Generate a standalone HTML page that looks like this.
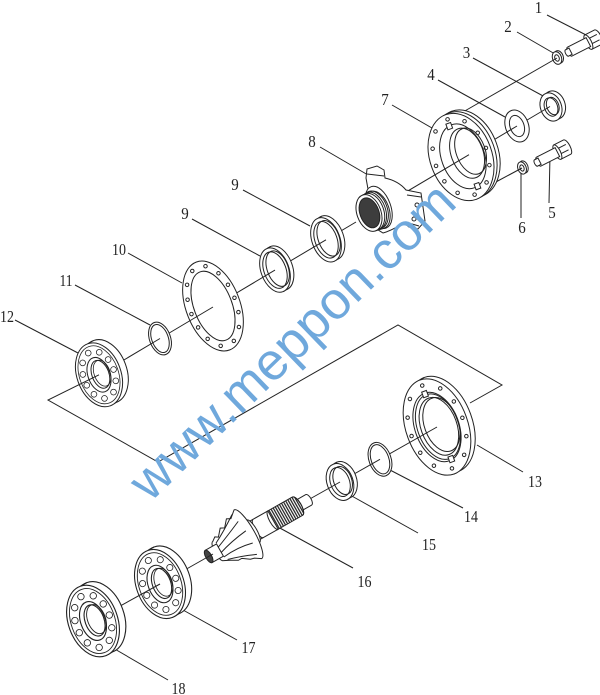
<!DOCTYPE html>
<html><head><meta charset="utf-8">
<style>
html,body{margin:0;padding:0;background:#fff;}
svg{display:block}
.l{stroke:#222;stroke-width:1;fill:none}
.w{stroke:#222;stroke-width:1;fill:#fff}
.t{font-family:"Liberation Serif",serif;font-size:17px;fill:#222;text-anchor:middle}
</style></head>
<body>
<svg width="600" height="695" viewBox="0 0 600 695" xmlns="http://www.w3.org/2000/svg">
<defs>
  <pattern id="spl" patternUnits="userSpaceOnUse" width="2.4" height="4">
    <rect width="2.4" height="4" fill="#fff"/>
    <line x1="0.6" y1="0" x2="0.6" y2="4" stroke="#222" stroke-width="1.3"/>
  </pattern>
  <g id="brg">
    <ellipse cx="6.5" cy="-1.1" rx="22" ry="33" fill="#fff" stroke="#222"/>
    <path d="M0,-33 L6.5,-34.1 M0,33 L6.5,31.9" stroke="#222" fill="none"/>
    <ellipse rx="22" ry="33" fill="#fff" stroke="#222"/>
    <ellipse rx="19.5" ry="30" fill="none" stroke="#222" stroke-width=".8"/>
    <ellipse rx="15.5" ry="24.5" fill="none" stroke="#222" stroke-width="6.5" stroke-linecap="round" stroke-dasharray="0 11.57"/>
    <ellipse rx="15.5" ry="24.5" fill="none" stroke="#fff" stroke-width="5" stroke-linecap="round" stroke-dasharray="0 11.57"/>
    <ellipse rx="11" ry="18" fill="#fff" stroke="#222"/>
    <ellipse cx="1.5" rx="8.5" ry="14.5" fill="#fff" stroke="#222"/>
    <ellipse cx="3.5" cy="-0.5" rx="8" ry="13.5" fill="none" stroke="#222" stroke-width=".8"/>
  </g>
</defs>

<!-- leader lines -->
<g class="l">
  <line x1="547" y1="15" x2="590" y2="37"/>
  <line x1="517" y1="32" x2="555" y2="54"/>
  <line x1="473" y1="58" x2="545" y2="97"/>
  <line x1="438" y1="80" x2="505" y2="117"/>
  <line x1="392" y1="105" x2="432" y2="128"/>
  <line x1="320" y1="147" x2="368" y2="175"/>
  <line x1="549" y1="203" x2="550" y2="155"/>
  <line x1="521" y1="218" x2="521" y2="172"/>
  <line x1="243" y1="190" x2="310" y2="226"/>
  <line x1="192" y1="219" x2="260" y2="256"/>
  <line x1="128" y1="253" x2="182" y2="283"/>
  <line x1="75" y1="285" x2="150" y2="325"/>
  <line x1="15" y1="320" x2="78" y2="353"/>
  <line x1="523" y1="472" x2="477" y2="445"/>
  <line x1="463" y1="508" x2="390" y2="470"/>
  <line x1="418" y1="533" x2="350" y2="495"/>
  <line x1="353" y1="568" x2="278" y2="527"/>
  <line x1="237" y1="640" x2="183" y2="610"/>
  <line x1="168" y1="680" x2="113" y2="648"/>
</g>

<!-- labels -->
<text class="t" x="538.5" y="13" textLength="7.5" lengthAdjust="spacingAndGlyphs">1</text>
<text class="t" x="508" y="32" textLength="7.5" lengthAdjust="spacingAndGlyphs">2</text>
<text class="t" x="466.5" y="58" textLength="7.5" lengthAdjust="spacingAndGlyphs">3</text>
<text class="t" x="431" y="80" textLength="7.5" lengthAdjust="spacingAndGlyphs">4</text>
<text class="t" x="385" y="105" textLength="7.5" lengthAdjust="spacingAndGlyphs">7</text>
<text class="t" x="312" y="147" textLength="7.5" lengthAdjust="spacingAndGlyphs">8</text>
<text class="t" x="552" y="218" textLength="7.5" lengthAdjust="spacingAndGlyphs">5</text>
<text class="t" x="522" y="233" textLength="7.5" lengthAdjust="spacingAndGlyphs">6</text>
<text class="t" x="235" y="190" textLength="7.5" lengthAdjust="spacingAndGlyphs">9</text>
<text class="t" x="185" y="219" textLength="7.5" lengthAdjust="spacingAndGlyphs">9</text>
<text class="t" x="119" y="255" textLength="14" lengthAdjust="spacingAndGlyphs">10</text>
<text class="t" x="66" y="286" textLength="13" lengthAdjust="spacingAndGlyphs">11</text>
<text class="t" x="7" y="322" textLength="14" lengthAdjust="spacingAndGlyphs">12</text>
<text class="t" x="535" y="487" textLength="14" lengthAdjust="spacingAndGlyphs">13</text>
<text class="t" x="471" y="522" textLength="14" lengthAdjust="spacingAndGlyphs">14</text>
<text class="t" x="429" y="550" textLength="14" lengthAdjust="spacingAndGlyphs">15</text>
<text class="t" x="364.5" y="587" textLength="14" lengthAdjust="spacingAndGlyphs">16</text>
<text class="t" x="248.5" y="653" textLength="14" lengthAdjust="spacingAndGlyphs">17</text>
<text class="t" x="178.5" y="694" textLength="14" lengthAdjust="spacingAndGlyphs">18</text>

<!-- bolt 1 -->
<g transform="translate(567,53) rotate(-27)">
  <path d="M24,-8 L35,-8 A3,8 0 0 1 35,8 L24,8 Z" class="w"/>
  <path d="M24,-3 L35,-3 M24,3 L35,3" class="l" stroke-width=".8"/>
  <ellipse cx="24" rx="3" ry="8" class="w"/>
  <path d="M3,-5 L24,-5 L24,5 L3,5 A2,5 0 0 1 3,-5 Z" class="w"/>
  <path d="M0,-3.5 L4,-3.5 L4,3.5 L0,3.5 A1.5,3.5 0 0 1 0,-3.5 Z" class="w"/>
</g>
<!-- washer 2 -->
<g transform="translate(557,58) rotate(-20)">
  <ellipse cx="2" cy="-0.4" rx="4.5" ry="6.5" class="w"/>
  <ellipse rx="4.5" ry="6.5" class="w" stroke-width="1.4"/>
  <ellipse rx="2.2" ry="3.3" class="l"/>
</g>
<line x1="557" y1="58" x2="463" y2="112" class="l"/>

<!-- bolt 5 -->
<g transform="translate(536,163) rotate(-27)">
  <path d="M24,-8 L35,-8 A3,8 0 0 1 35,8 L24,8 Z" class="w"/>
  <path d="M24,-3 L35,-3 M24,3 L35,3" class="l" stroke-width=".8"/>
  <ellipse cx="24" rx="3" ry="8" class="w"/>
  <path d="M3,-5 L24,-5 L24,5 L3,5 A2,5 0 0 1 3,-5 Z" class="w"/>
  <path d="M0,-3.5 L4,-3.5 L4,3.5 L0,3.5 A1.5,3.5 0 0 1 0,-3.5 Z" class="w"/>
</g>
<!-- washer 6 -->
<g transform="translate(522,168) rotate(-20)">
  <ellipse cx="2" cy="-0.4" rx="4.2" ry="6.3" class="w"/>
  <ellipse rx="4.2" ry="6.3" class="w" stroke-width="1.4"/>
  <ellipse rx="2" ry="3.2" class="l"/>
</g>
<line x1="522" y1="168" x2="494" y2="183" class="l"/>

<!-- nut 3 -->
<g transform="translate(551,107) rotate(-20)">
  <ellipse cx="4" cy="-0.7" rx="10.5" ry="14.5" class="w"/>
  <path d="M0,-14.5 L4,-15.2 M0,14.5 L4,13.8" class="l"/>
  <ellipse rx="10.5" ry="14.5" class="w" stroke-width="1.2"/>
  <ellipse rx="6.5" ry="9.5" class="w"/>
  <ellipse cx="2" cy="-0.3" rx="6" ry="9" class="l" stroke-width=".8"/>
</g>
<line x1="550" y1="106.5" x2="517" y2="126" class="l"/>
<!-- washer 4 -->
<g transform="translate(517,126) rotate(-20)">
  <ellipse rx="11.5" ry="16.5" class="w" stroke-width="2"/>
  <ellipse rx="7" ry="11" class="w" stroke-width="1.5"/>
</g>
<line x1="517" y1="126" x2="469" y2="154.7" class="l"/>

<!-- flange 7 -->
<g transform="translate(461,157) rotate(-20)">
  <ellipse cx="7" cy="-1.2" rx="31" ry="45" class="w"/>
  <path d="M0,-45 L7,-46.2 M0,45 L7,43.8" class="l"/>
  <ellipse cx="3.5" cy="-0.6" rx="31" ry="45" class="l" stroke-width=".7"/>
  <ellipse rx="31" ry="45" class="w"/>
  <ellipse rx="26.5" ry="40" fill="none" stroke="#222" stroke-width="4.5" stroke-linecap="round" stroke-dasharray="0 17.59"/>
  <ellipse rx="26.5" ry="40" fill="none" stroke="#fff" stroke-width="2.6" stroke-linecap="round" stroke-dasharray="0 17.59"/>
  <ellipse cx="2" rx="21.5" ry="33.5" class="l"/>
  <rect x="-3" y="-36" width="5" height="6" class="w"/>
  <rect x="3" y="30" width="5" height="6" class="w"/>
  <ellipse cx="7" cy="-1.5" rx="16" ry="26" class="w"/>
  <ellipse cx="11" cy="-2.2" rx="14.5" ry="24" class="l" stroke-width=".8"/>
</g>
<line x1="469" y1="154.7" x2="369" y2="214" class="l"/>

<!-- yoke 8 -->
<path d="M366,178 L367,169 L377,166 L384,170 L385,178 C394,180 401,184 406,190 L421,193 L425,221 L418,229 L409,227 L404,223 C397,227 391,231 383,233 L375,228 Z" class="w"/>
<path d="M367,174 L384,176 M407,195 L421,197 M405,222 L419,226" class="l" stroke-width=".8"/>
<circle cx="417" cy="205" r="2" class="l"/>
<circle cx="414" cy="219" r="2" class="l"/>
<g transform="translate(369,213) rotate(-20)">
  <ellipse cx="11" cy="-2" rx="12" ry="22" class="w"/>
  <path d="M0,-19 L9,-19.5 A11.5,19.5 0 0 1 9,19.5 L0,19 Z" class="w"/>
  <ellipse cx="3" cy="-0.3" rx="12" ry="19" class="l" stroke-width=".7"/>
  <ellipse cx="5" cy="-0.6" rx="12" ry="19.2" class="l" stroke-width=".7"/>
  <ellipse cx="7" cy="-0.9" rx="12" ry="19.4" class="l" stroke-width=".7"/>
  <ellipse rx="12" ry="19" class="w" stroke-width="1.2"/>
  <ellipse cx="0.5" rx="9.5" ry="15.5" fill="#3d3d3d" stroke="#222"/>
</g>
<line x1="356" y1="222" x2="326" y2="239.8" class="l"/>

<!-- ring 9 upper -->
<g transform="translate(326,239.8) rotate(-20)">
  <ellipse cx="4" cy="-0.7" rx="14" ry="23" class="w"/>
  <path d="M0,-23 L4,-23.7 M0,23 L4,22.3" class="l"/>
  <ellipse rx="14" ry="23" class="w" stroke-width="1.2"/>
  <ellipse rx="11" ry="19" class="w"/>
  <ellipse cx="3" cy="-0.5" rx="10.5" ry="18.5" class="l" stroke-width=".8"/>
</g>
<line x1="326" y1="239.8" x2="275" y2="270.1" class="l"/>
<!-- ring 9 lower -->
<g transform="translate(275,270.1) rotate(-20)">
  <ellipse cx="4" cy="-0.7" rx="14" ry="23" class="w"/>
  <path d="M0,-23 L4,-23.7 M0,23 L4,22.3" class="l"/>
  <ellipse rx="14" ry="23" class="w" stroke-width="1.2"/>
  <ellipse rx="11" ry="19" class="w"/>
  <ellipse cx="3" cy="-0.5" rx="10.5" ry="18.5" class="l" stroke-width=".8"/>
</g>
<line x1="275" y1="270.1" x2="213" y2="307" class="l"/>

<!-- gasket 10 -->
<g transform="translate(213,306) rotate(-21)">
  <ellipse rx="27" ry="47" class="w"/>
  <ellipse rx="19" ry="36.5" class="l"/>
  <ellipse rx="23" ry="42" fill="none" stroke="#222" stroke-width="4.5" stroke-linecap="round" stroke-dasharray="0 14.9"/>
  <ellipse rx="23" ry="42" fill="none" stroke="#fff" stroke-width="2.5" stroke-linecap="round" stroke-dasharray="0 14.9"/>
</g>
<line x1="213" y1="307" x2="160" y2="338.5" class="l"/>

<!-- O-ring 11 -->
<g transform="translate(160,338.5) rotate(-20)">
  <ellipse rx="10.5" ry="17" class="w" stroke-width="1.3"/>
  <ellipse rx="8.3" ry="14.6" class="l"/>
</g>
<line x1="160" y1="338.5" x2="99" y2="374.8" class="l"/>

<!-- bearing 12 -->
<use href="#brg" transform="translate(99,374.8) rotate(-20)"/>

<!-- bracket -->
<polyline points="99,374.8 48,400 158,462 398,325 502,385 470,403" class="l"/>

<!-- flange 13 -->
<g transform="translate(437,427) rotate(-20)">
  <ellipse cx="5" cy="-0.9" rx="31" ry="50" class="w"/>
  <path d="M0,-50 L5,-50.9 M0,50 L5,49.1" class="l"/>
  <ellipse rx="31" ry="50" class="w"/>
  <ellipse rx="27" ry="44" fill="none" stroke="#222" stroke-width="4.5" stroke-linecap="round" stroke-dasharray="0 18.86"/>
  <ellipse rx="27" ry="44" fill="none" stroke="#fff" stroke-width="2.5" stroke-linecap="round" stroke-dasharray="0 18.86"/>
  <ellipse rx="22" ry="36" class="w"/>
  <ellipse cx="1" rx="20.5" ry="34" class="l" stroke-width=".8"/>
  <rect x="-2.5" y="-38" width="5" height="6" class="w"/>
  <rect x="0" y="32" width="5" height="6" class="w"/>
  <ellipse cx="2" rx="18" ry="30" class="w"/>
  <ellipse cx="5" cy="-0.8" rx="17" ry="28" class="l" stroke-width=".8"/>
</g>
<line x1="437" y1="427" x2="380" y2="459.3" class="l"/>

<!-- O-ring 14 -->
<g transform="translate(380,459.3) rotate(-20)">
  <ellipse rx="11" ry="17.5" class="w" stroke-width="1.3"/>
  <ellipse rx="8.8" ry="15.2" class="l"/>
</g>
<line x1="380" y1="459.3" x2="340" y2="482" class="l"/>

<!-- seal 15 -->
<g transform="translate(340,482) rotate(-20)">
  <ellipse cx="4" cy="-0.7" rx="13" ry="19" class="w"/>
  <path d="M0,-19 L4,-19.7 M0,19 L4,18.3" class="l"/>
  <ellipse rx="13" ry="19" class="w" stroke-width="1.2"/>
  <ellipse rx="9.5" ry="15" class="w"/>
  <ellipse cx="3" cy="-0.5" rx="9" ry="14.5" class="l" stroke-width=".8"/>
</g>
<line x1="340" y1="482" x2="308" y2="500" class="l"/>

<!-- shaft 16 -->
<g transform="translate(213,554) rotate(-29.5)">
  <path d="M96,-6 L110,-6 A2.5,6 0 0 1 110,6 L96,6 Z" class="w"/>
  <path d="M68,-10.5 L97,-10.5 A4,10.5 0 0 1 97,10.5 L68,10.5 Z" fill="url(#spl)" stroke="#222"/>
  <path d="M97,-10.5 A4,10.5 0 0 1 97,10.5" class="l"/>
  <path d="M44,-10.5 L69,-10.5 L69,10.5 L44,10.5 Z" class="w"/>
  <path d="M69,-10.5 A3.5,10.5 0 0 0 69,10.5" class="l"/>
  <path d="M52,-10.5 A3.5,10.5 0 0 0 52,10.5" class="l" stroke-width=".8"/>
  <path d="M40,-13 L46,-13 A4,13 0 0 1 46,13 L40,13 Z" class="w"/>
  <path d="M6,-11 L10,-14 L13,-12 L19,-19 L23,-17 L29,-24 L33,-22 L40,-28 A7,28 0 0 1 40,28 L34,24 L30,23 L23,18 L19,18 L12,14 L8,12 L6,11 A3.5,11 0 0 1 6,-11 Z" class="w"/>
  <path d="M8,-8 Q20,-14 36,-25 M7,-3 Q20,-8 38,-16 M7,3 Q22,-2 40,-4 M8,8 Q24,6 40,10 M10,12 Q25,16 38,22" class="l" stroke-width=".9"/>
  <path d="M-5,-7 L8,-7 L8,7 L-5,7 Z" class="w"/>
  <ellipse cx="-5" rx="3" ry="7" fill="#444" stroke="#222"/>
</g>
<line x1="213" y1="554" x2="160" y2="584" class="l"/>

<!-- bearing 17 -->
<use href="#brg" transform="translate(160,584) rotate(-20) scale(1.08)"/>
<line x1="160" y1="584" x2="93" y2="621" class="l"/>
<!-- bearing 18 -->
<use href="#brg" transform="translate(93,621) rotate(-20) scale(1.12)"/>

<!-- watermark -->
<text x="0" y="0" transform="translate(150,503) rotate(-44)" font-family="Liberation Sans, sans-serif" font-size="52.5" fill="#6fa8dc">www.meppon.com</text>
</svg>
</body></html>
